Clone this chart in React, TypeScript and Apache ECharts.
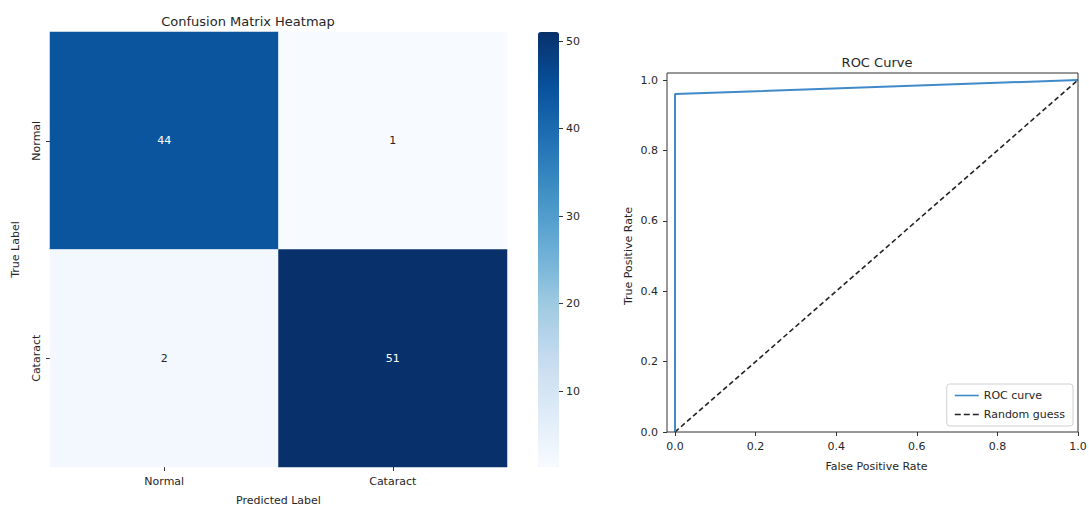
import React, { useEffect, useRef } from "react";
import * as echarts from "echarts";

const classes = ["Normal", "Cataract"];
// [predictedIndex, trueIndex, count]
const matrix: [number, number, number][] = [
  [0, 0, 44],
  [1, 0, 1],
  [0, 1, 2],
  [1, 1, 51],
];
const rocPoints: [number, number][] = [
  [0, 0],
  [0, 0.96],
  [1, 1],
];
const randomPoints: [number, number][] = [
  [0, 0],
  [1, 1],
];
const blues = ["#f7fbff", "#deebf7", "#c6dbef", "#9ecae1", "#6baed6", "#4292c6", "#2171b5", "#08519c", "#08306b"];

const FONT = "DejaVu Sans";
const TXT = "#262626";
const ROC_COLOR = "#3f8ac8";

export default function App() {
  const ref = useRef<HTMLDivElement>(null);
  useEffect(() => {
    if (!ref.current) return;
    const chart = echarts.init(ref.current, undefined, { renderer: "svg" });
    const tickStyle = { show: true, length: 4, inside: false, lineStyle: { color: "#333", width: 1 } };
    const hiddenLine = { show: true, lineStyle: { color: "rgba(0,0,0,0)" } };
    const lbl = { color: TXT, fontSize: 11, fontFamily: FONT };
    const noGridBounds = { outerBoundsMode: "none", containLabel: false };
    const fmt1 = (v: number) => v.toFixed(1);
    chart.setOption({
      animation: false,
      backgroundColor: "#fff",
      textStyle: { fontFamily: FONT },
      title: [
        { text: "Confusion Matrix Heatmap", left: 243, top: 10, textAlign: "center", textStyle: { fontFamily: FONT, fontSize: 13, fontWeight: "normal", color: TXT } },
        { text: "ROC Curve", left: 872, top: 51, textAlign: "center", textStyle: { fontFamily: FONT, fontSize: 13, fontWeight: "normal", color: TXT } },
      ],
      grid: [
        { left: 50, top: 32, width: 457, height: 435, ...noGridBounds },
        { left: 559, top: 41, width: 10, height: 350, ...noGridBounds },
        { left: 675, top: 80, width: 403, height: 352, ...noGridBounds },
        { left: 667, top: 73, width: 411, height: 359, show: true, borderColor: "#333", borderWidth: 1, backgroundColor: "transparent", z: 10, ...noGridBounds },
        { left: 667, top: 80, width: 411, height: 352, ...noGridBounds },
      ],
      xAxis: [
        {
          gridIndex: 0, type: "category", data: classes, position: "bottom",
          axisLine: hiddenLine, axisTick: { ...tickStyle, alignWithLabel: true },
          axisLabel: { ...lbl, margin: 9 },
          name: "Predicted Label", nameLocation: "middle", nameGap: 28,
          nameTextStyle: lbl,
          splitLine: { show: false },
        },
        { gridIndex: 1, type: "value", show: false },
        {
          gridIndex: 2, type: "value", min: 0, max: 1, interval: 0.2,
          axisLine: hiddenLine,
          axisTick: tickStyle,
          axisLabel: { ...lbl, margin: 9, formatter: fmt1 },
          splitLine: { show: false },
          name: "False Positive Rate", nameLocation: "middle", nameGap: 29,
          nameTextStyle: lbl,
        },
        { gridIndex: 3, type: "value", show: false },
        { gridIndex: 4, type: "value", show: false },
      ],
      yAxis: [
        {
          gridIndex: 0, type: "category", data: classes, inverse: true,
          axisLine: hiddenLine, axisTick: { ...tickStyle, alignWithLabel: true },
          axisLabel: { ...lbl, rotate: 90, margin: 8 },
          name: "True Label", nameLocation: "middle", nameGap: 29,
          nameTextStyle: lbl,
          splitLine: { show: false },
        },
        {
          gridIndex: 1, type: "value", min: 10, max: 50, interval: 10, position: "left",
          axisLine: hiddenLine,
          axisTick: { ...tickStyle, inside: true },
          axisLabel: { ...lbl, inside: true, margin: 7 },
          splitLine: { show: false },
        },
        { gridIndex: 2, type: "value", min: 0, max: 1, show: false },
        { gridIndex: 3, type: "value", show: false },
        {
          gridIndex: 4, type: "value", min: 0, max: 1, interval: 0.2, position: "left",
          axisLine: hiddenLine,
          axisTick: tickStyle,
          axisLabel: { ...lbl, margin: 9, formatter: fmt1 },
          splitLine: { show: false },
          name: "True Positive Rate", nameLocation: "middle", nameGap: 33,
          nameTextStyle: lbl,
        },
      ],
      visualMap: {
        type: "continuous", min: 1, max: 51, seriesIndex: 0, calculable: false,
        show: true, left: 538, top: 32, itemWidth: 21, itemHeight: 435, padding: 0,
        text: ["", ""], textGap: 0, showLabel: false,
        inRange: { color: blues },
      },
      legend: {
        data: [
          { name: "ROC curve", icon: "path://M0,4h24v1.6h-24z" },
          { name: "Random guess", icon: "path://M0,4h6v1.6h-6z M9,4h6v1.6h-6z M18,4h6v1.6h-6z" },
        ],
        orient: "vertical", right: 16, bottom: 80,
        backgroundColor: "#fff", borderColor: "#d0d0d0", borderWidth: 1, borderRadius: 3,
        padding: [6, 8, 6, 8], itemGap: 8, itemWidth: 24, itemHeight: 10,
        textStyle: lbl,
      },
      series: [
        {
          type: "heatmap", xAxisIndex: 0, yAxisIndex: 0,
          data: matrix.map(([x, y, v]) => ({
            value: [x, y, v],
            label: { color: v > 26 ? "#ffffff" : "#262626" },
          })),
          label: { show: true, fontSize: 11, fontFamily: FONT },
          itemStyle: { borderWidth: 0 },
          emphasis: { disabled: true },
        },
        {
          name: "ROC curve", type: "line", xAxisIndex: 2, yAxisIndex: 2,
          data: rocPoints, symbol: "none", z: 3, clip: false,
          lineStyle: { color: ROC_COLOR, width: 2 }, itemStyle: { color: ROC_COLOR },
        },
        {
          name: "Random guess", type: "line", xAxisIndex: 2, yAxisIndex: 2,
          data: randomPoints, symbol: "none", z: 2, clip: false,
          lineStyle: { color: "#222", width: 1.6, type: [5, 3] }, itemStyle: { color: "#222" },
        },
      ],
    });
    return () => chart.dispose();
  }, []);
  return <div ref={ref} style={{ position: "fixed", left: 0, top: 0, width: 1089, height: 506 }} />;
}
